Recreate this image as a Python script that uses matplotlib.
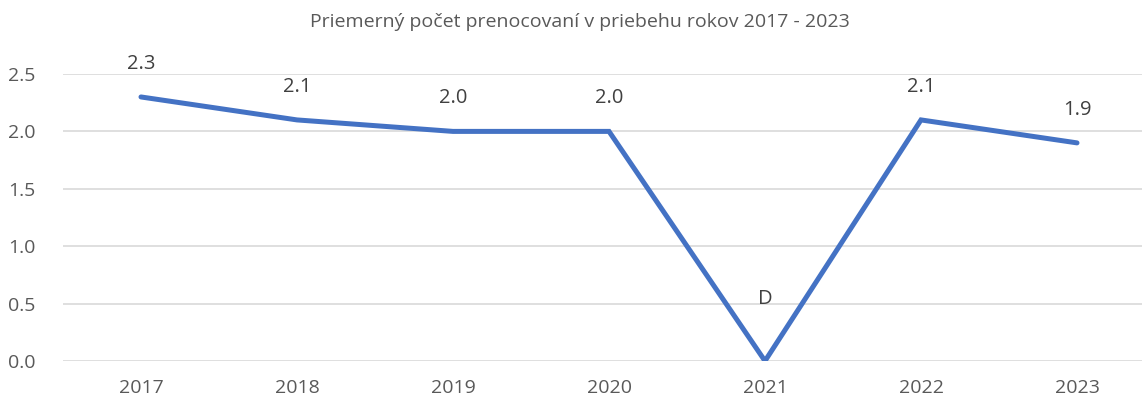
import matplotlib
matplotlib.use("Agg")
import matplotlib.pyplot as plt

years = ["2017", "2018", "2019", "2020", "2021", "2022", "2023"]
values = [2.3, 2.1, 2.0, 2.0, 0.0, 2.1, 1.9]
labels = ["2.3", "2.1", "2.0", "2.0", "D", "2.1", "1.9"]
y_ticks = [0.0, 0.5, 1.0, 1.5, 2.0, 2.5]

plt.rcParams["font.family"] = ["Open Sans", "DejaVu Sans"]

fig = plt.figure(figsize=(11.42, 4.03), dpi=100)
ax = fig.add_axes([63 / 1142, 42 / 403, 1079 / 1142, 287 / 403])

x = list(range(len(years)))
ax.plot(x, values, color="#4472C4", linewidth=3.6, solid_capstyle="round",
        solid_joinstyle="miter", zorder=3)

for xi, v, lab in zip(x, values, labels):
    off = 62 if lab == "D" else 33
    ax.annotate(lab, (xi, v), xytext=(0, off), textcoords="offset pixels",
                ha="center", va="center", fontsize=14.5, color="#404040",
                annotation_clip=False)

ax.set_xlim(-0.5, (1142 - 141) / 156)
ax.set_ylim(0, 2.5)
ax.set_xticks(x)
ax.set_xticklabels(years)
ax.set_yticks(y_ticks)
ax.set_yticklabels([f"{t:.1f}" for t in y_ticks])
ax.tick_params(axis="both", length=0, labelsize=14, colors="#595959")
ax.tick_params(axis="y", pad=20)
ax.tick_params(axis="x", pad=13)
ax.grid(axis="y", color="#D9D9D9", linewidth=1.2)
ax.set_axisbelow(True)
for s in ax.spines.values():
    s.set_visible(False)

fig.text(580 / 1142, 1 - 22 / 403, "Priemerný počet prenocovaní v priebehu rokov 2017 - 2023",
         ha="center", va="center", fontsize=14, color="#595959")

fig.savefig("out.png", dpi=100)
